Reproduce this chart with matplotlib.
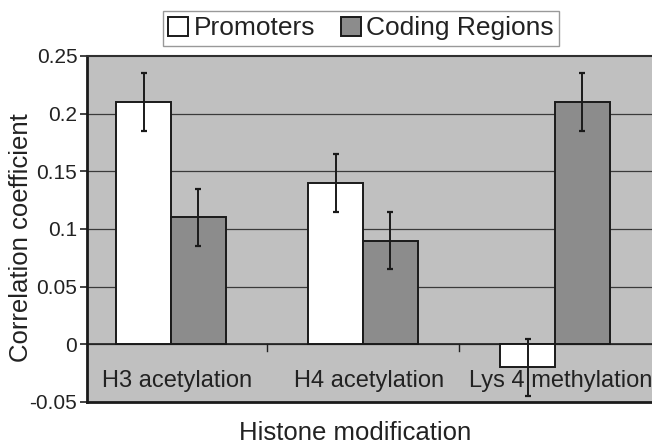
import numpy as np
import matplotlib
matplotlib.use('Agg')
import matplotlib.pyplot as plt
from matplotlib.patches import Patch

plt.rcParams['font.family'] = ['Liberation Sans', 'DejaVu Sans']

# Data
categories = ['H3 acetylation', 'H4 acetylation', 'Lys 4 methylation']
promoters = [0.21, 0.14, -0.02]
promoters_err = [0.025, 0.025, 0.025]
coding = [0.11, 0.09, 0.21]
coding_err = [0.025, 0.025, 0.025]
yticks = [-0.05, 0, 0.05, 0.1, 0.15, 0.2, 0.25]
ytick_labels = ['-0.05', '0', '0.05', '0.1', '0.15', '0.2', '0.25']

fig = plt.figure(figsize=(6.52, 4.44), dpi=100)
ax = fig.add_axes([0.1334, 0.0946, 0.8666, 0.7793])
ax.set_facecolor('#c0c0c0')

x = np.arange(len(categories))
w = 0.286

# grid lines
for yv in yticks[1:-1]:
    ax.axhline(yv, color='#3a3a3a', lw=0.9, zorder=1)
ax.axhline(0, color='#202020', lw=1.2, zorder=1)

ekw = dict(ecolor='#1a1a1a', elinewidth=1.4, capsize=2.5, capthick=1.6)
ax.bar(x - w / 2, promoters, w, color='white', edgecolor='#1a1a1a',
       lw=1.4, yerr=promoters_err, error_kw=ekw, zorder=3)
ax.bar(x + w / 2, coding, w, color='#8c8c8c', edgecolor='#1a1a1a',
       lw=1.4, yerr=coding_err, error_kw=ekw, zorder=3)

# category separators on the zero line
for b in x[:-1] + 0.5:
    ax.plot([b, b], [0, -0.006], color='#202020', lw=1, zorder=2)

# category names inside the plot
for xi, name in zip(x, categories):
    ax.text(xi + 0.03, -0.032, name, ha='center', va='center',
            fontsize=17, color='#222222', zorder=4)

ax.set_xlim(-0.4375, 2.505)
ax.set_ylim(-0.05, 0.25)
ax.set_xticks([])
ax.set_yticks(yticks)
ax.set_yticklabels(ytick_labels)
ax.tick_params(axis='y', direction='out', length=5, width=1.2,
               labelsize=15, pad=2, colors='#222222')

for side in ['left', 'bottom']:
    ax.spines[side].set_linewidth(2)
    ax.spines[side].set_color('#1a1a1a')
ax.spines['top'].set_linewidth(1.5)
ax.spines['top'].set_color('#303030')
ax.spines['right'].set_visible(False)

ax.set_ylabel('Correlation coefficient', fontsize=18.5, color='#222222')
ax.yaxis.set_label_coords(-0.095, 0.474)
fig.text(0.545, 0.025, 'Histone modification', ha='center', va='center',
         fontsize=18.5, color='#222222')

handles = [Patch(facecolor='white', edgecolor='#1a1a1a', lw=1.4),
           Patch(facecolor='#8c8c8c', edgecolor='#1a1a1a', lw=1.4)]
leg = fig.legend(handles, ['Promoters', 'Coding Regions'], loc='center',
                 bbox_to_anchor=(0.554, 0.936), ncol=2, fontsize=19,
                 frameon=True, fancybox=False, edgecolor='#808080',
                 borderpad=0.2, handlelength=0.75, handleheight=0.75,
                 handletextpad=0.2, columnspacing=1.0, borderaxespad=0)
leg.get_frame().set_linewidth(1)
for t in leg.get_texts():
    t.set_color('#222222')

fig.savefig('out.png', dpi=100)
